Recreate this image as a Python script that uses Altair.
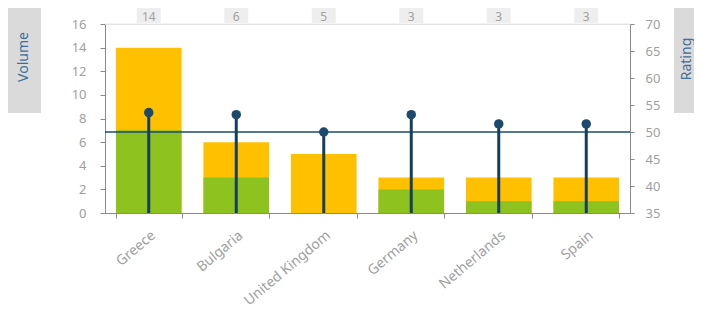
import altair as alt
import pandas as pd

countries = ["Greece", "Bulgaria", "United Kingdom", "Germany", "Netherlands", "Spain"]
total = [14, 6, 5, 3, 3, 3]
green = [7, 3, 0, 2, 1, 1]
rating = [53.6, 53.2, 50.0, 53.2, 51.5, 51.5]
volume_ticks = [0, 2, 4, 6, 8, 10, 12, 14, 16]
rating_ticks = [35, 40, 45, 50, 55, 60, 65, 70]

df = pd.DataFrame({"country": countries, "total": total, "green": green, "rating": rating})

FONT = "Noto Sans"
GRAY = "#a0a0a0"
AXIS = "#8a8a8a"
NAVY = "#1b4a6e"
STEM = "#143f5e"

x_enc = alt.X(
    "country:N",
    sort=countries,
    scale=alt.Scale(paddingInner=0.25, paddingOuter=0.125),
    axis=alt.Axis(
        title=None, labelAngle=-40, tickBand="extent", labelColor=GRAY,
        labelFontSize=14, labelFont=FONT, domainColor=AXIS, tickColor=AXIS,
        tickSize=5, labelPadding=10,
    ),
)

vol_scale = alt.Scale(domain=[0, 16], nice=False)
rat_scale = alt.Scale(domain=[35, 70], nice=False, zero=False)
vol_axis = alt.Axis(
    title=None, orient="left", values=volume_ticks, grid=False,
    labelColor=GRAY, labelFontSize=13, labelFont=FONT,
    domainColor=AXIS, tickColor=AXIS, tickSize=5, labelPadding=14,
)
rat_axis = alt.Axis(
    title=None, orient="right", values=rating_ticks, grid=False,
    labelColor=GRAY, labelFontSize=13, labelFont=FONT,
    domainColor=AXIS, tickColor=AXIS, tickSize=4, labelPadding=11,
)

base = alt.Chart(df)

orange_bars = base.mark_bar(color="#FFC000").encode(
    x=x_enc, y=alt.Y("total:Q", scale=vol_scale, axis=vol_axis)
)
green_bars = base.mark_bar(color="#8DC21F").encode(
    x=x_enc, y=alt.Y("green:Q", scale=vol_scale, axis=vol_axis)
)
top_line = alt.Chart(pd.DataFrame({"v": [16]})).mark_rule(color="#e8e8e8", strokeWidth=1).encode(
    y=alt.Y("v:Q", scale=vol_scale, axis=vol_axis)
)
label_boxes = base.mark_bar(color="#eeeeee", width=24).encode(
    x=x_enc, y=alt.value(-20), y2=alt.value(-1)
)
label_text = base.mark_text(color=GRAY, fontSize=12, font=FONT, baseline="middle").encode(
    x=x_enc, y=alt.value(-7), text="total:Q"
)

vol_layer = alt.layer(orange_bars, green_bars, top_line, label_boxes, label_text)

rule50 = alt.Chart(pd.DataFrame({"r": [50]})).mark_rule(color=NAVY, strokeWidth=1.5).encode(
    y=alt.Y("r:Q", scale=rat_scale, axis=rat_axis)
)
stems = base.mark_rule(color=STEM, strokeWidth=3).encode(
    x=x_enc, y=alt.Y("rating:Q", scale=rat_scale, axis=rat_axis), y2=alt.datum(35)
)
dots = base.mark_circle(color=NAVY, size=90, opacity=1).encode(
    x=x_enc, y=alt.Y("rating:Q", scale=rat_scale, axis=rat_axis)
)
rat_layer = alt.layer(rule50, stems, dots)

one = alt.Chart(pd.DataFrame({"a": [0]}))
vol_box = one.mark_rect(color="#dadada").encode(
    x=alt.value(-98), x2=alt.value(-64), y=alt.value(-16), y2=alt.value(89)
)
vol_title = one.mark_text(text="Volume", angle=270, color="#3f6f9a", fontSize=14, font=FONT).encode(
    x=alt.value(-81), y=alt.value(33)
)
rat_box = one.mark_rect(color="#dadada").encode(
    x=alt.value(569), x2=alt.value(597), y=alt.value(-16), y2=alt.value(89)
)
rat_title = one.mark_text(text="Rating", angle=270, color="#3f6f9a", fontSize=14, font=FONT).encode(
    x=alt.value(582), y=alt.value(35)
)

chart = alt.layer(vol_layer, rat_layer, vol_box, vol_title, rat_box, rat_title).resolve_scale(
    y="independent"
).properties(
    width=525, height=189,
    autosize=alt.AutoSizeParams(type="none"),
    padding={"left": 97, "top": 16, "right": 64, "bottom": 96},
).configure_view(stroke=None).configure(font=FONT)

chart.save("out.html", embed_options={"renderer": "svg", "actions": False})
